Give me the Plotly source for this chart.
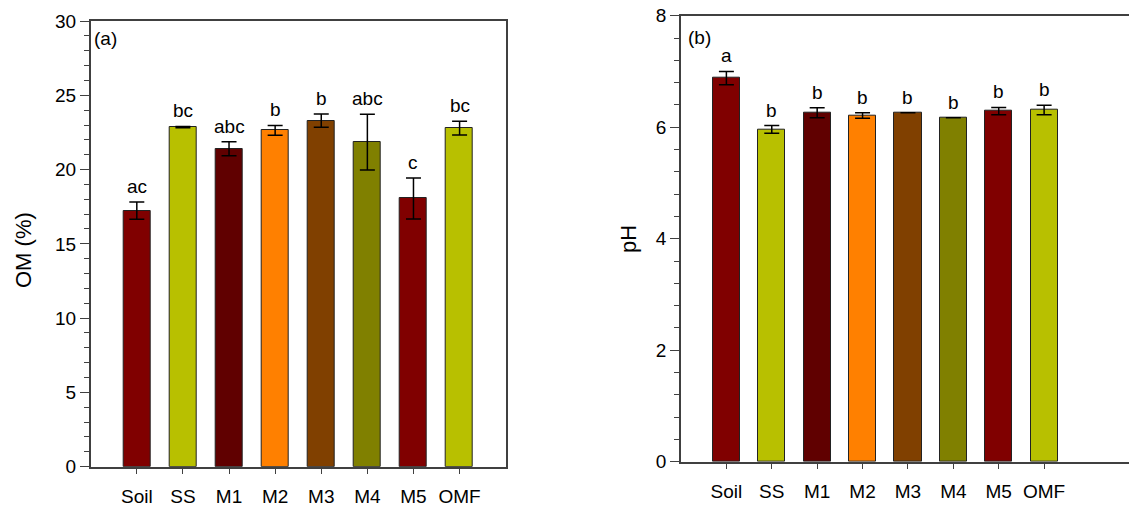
import plotly.graph_objects as go

categories = ["Soil", "SS", "M1", "M2", "M3", "M4", "M5", "OMF"]
om_values = [17.23, 22.86, 21.40, 22.64, 23.29, 21.85, 18.06, 22.79]
om_errors = [0.58, 0.04, 0.47, 0.33, 0.45, 1.88, 1.38, 0.47]
om_letters = ["ac", "bc", "abc", "b", "b", "abc", "c", "bc"]
ph_values = [6.88, 5.96, 6.26, 6.21, 6.26, 6.17, 6.29, 6.31]
ph_errors = [0.12, 0.07, 0.09, 0.05, 0.0, 0.0, 0.065, 0.085]
ph_letters = ["a", "b", "b", "b", "b", "b", "b", "b"]
bar_colors = ["#800000", "#B8C000", "#600000", "#FF8000", "#804000", "#808000", "#800000", "#B8C000"]

FONT = "Arial, Liberation Sans, sans-serif"
AX = "#404040"

fig = go.Figure()
fig.add_trace(go.Bar(
    x=categories, y=om_values, width=0.59,
    marker=dict(color=bar_colors, line=dict(color="#222222", width=1)),
    error_y=dict(type="data", array=om_errors, color="black", thickness=1.5, width=7.5),
    xaxis="x", yaxis="y", showlegend=False))
fig.add_trace(go.Bar(
    x=categories, y=ph_values, width=0.6,
    marker=dict(color=bar_colors, line=dict(color="#222222", width=1)),
    error_y=dict(type="data", array=ph_errors, color="black", thickness=1.5, width=7.5),
    xaxis="x2", yaxis="y2", showlegend=False))

annotations = []
for c, v, e, t in zip(categories, om_values, om_errors, om_letters):
    annotations.append(dict(x=c, y=v + e, xref="x", yref="y", text=t, showarrow=False,
                            yanchor="bottom", yshift=3, font=dict(size=19, color="black", family=FONT)))
for c, v, e, t in zip(categories, ph_values, ph_errors, ph_letters):
    annotations.append(dict(x=c, y=v + e, xref="x2", yref="y2", text=t, showarrow=False,
                            yanchor="bottom", yshift=3, font=dict(size=19, color="black", family=FONT)))
annotations += [
    dict(x=92 / 1129, y=1 - 39 / 509, xref="paper", yref="paper", text="(a)", showarrow=False,
         xanchor="left", yanchor="middle", font=dict(size=19, color="black", family=FONT)),
    dict(x=686 / 1129, y=1 - 37 / 509, xref="paper", yref="paper", text="(b)", showarrow=False,
         xanchor="left", yanchor="middle", font=dict(size=19, color="black", family=FONT)),
    dict(x=23 / 1129, y=1 - 250 / 509, xref="paper", yref="paper", text="OM (%)", showarrow=False,
         textangle=-90, xanchor="center", yanchor="middle", font=dict(size=22, color="black", family=FONT)),
    dict(x=628 / 1129, y=1 - 239 / 509, xref="paper", yref="paper", text="pH", showarrow=False,
         textangle=-90, xanchor="center", yanchor="middle", font=dict(size=22, color="black", family=FONT)),
]

xcommon = dict(type="category", ticks="outside", ticklen=6, tickwidth=1.2, tickcolor=AX,
               showline=True, linecolor=AX, linewidth=1.5, showgrid=False, zeroline=False,
               automargin=False,
               tickfont=dict(size=19, color="black", family=FONT), ticklabelstandoff=6)
ycommon = dict(ticks="outside", ticklen=9, tickwidth=1.2, tickcolor=AX,
               showline=True, linecolor=AX, linewidth=1.5, showgrid=False, zeroline=False,
               automargin=False,
               tickfont=dict(size=19, color="black", family=FONT))

fig.update_layout(
    width=1129, height=509,
    margin=dict(l=0, r=0, t=0, b=0, pad=0),
    plot_bgcolor="white", paper_bgcolor="white",
    bargap=0,
    xaxis=dict(domain=[90.7 / 1129, 505.7 / 1129], range=[-1, 8], mirror=True, anchor="y", **xcommon),
    yaxis=dict(domain=[1 - 466.7 / 509, 1 - 21 / 509], range=[0, 30], dtick=5, mirror=True, anchor="x",
               minor=dict(dtick=1, ticks="outside", ticklen=5, tickcolor=AX), **ycommon),
    xaxis2=dict(domain=[681 / 1129, 1.0], range=[-1, 8.87], mirror=True, anchor="y2", **xcommon),
    yaxis2=dict(domain=[1 - 461.7 / 509, 1 - 15.7 / 509], range=[0, 8], dtick=2, mirror=False, anchor="x2",
                minor=dict(dtick=0.4, ticks="outside", ticklen=5, tickcolor=AX), **ycommon),
    annotations=annotations,
)

fig.write_html("out.html")
